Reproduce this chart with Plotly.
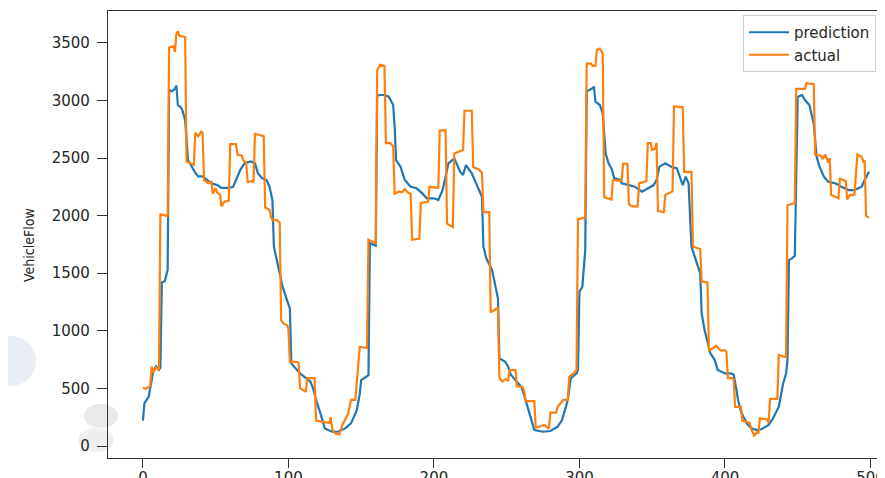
import plotly.graph_objects as go

# ---- data (vertices of each polyline) ----
actual_x = [0, 2, 4, 5, 6, 7, 9, 11, 12, 16, 17, 18, 21, 22, 23, 24, 25, 28, 29,
            30, 34, 35, 36, 38, 40, 41, 42, 45, 47, 48, 50, 51, 53, 54, 56, 59,
            60, 64, 65, 68, 69, 71, 72, 75, 76, 77, 80, 83, 84, 87, 88, 89, 92, 94,
            95, 97, 99, 100, 101, 106, 107, 108, 111, 112, 113, 118, 119, 125, 128,
            129, 130, 132, 135, 137, 139, 141, 143, 146, 149, 154, 155, 160, 161,
            163, 166, 167, 170, 172, 173, 176, 178, 180, 182, 184, 185, 190, 191,
            196, 197, 203, 204, 208, 209, 213, 214, 219, 220, 221, 226, 227, 231,
            233, 234, 238, 239, 244, 245, 247, 249, 251, 252, 256, 257, 261, 262,
            263, 269, 270, 276, 278, 279, 280, 284, 285, 287, 289, 292, 293, 296,
            298, 299, 304, 305, 308, 309, 311, 312, 314, 316, 317, 322, 323, 329,
            330, 333, 334, 336, 340, 341, 346, 347, 349, 350, 352, 353, 354, 358,
            359, 364, 365, 371, 372, 377, 378, 383, 384, 388, 389, 392, 394, 397,
            400, 401, 402, 405, 406, 407, 411, 412, 417, 418, 420, 422, 423, 424,
            429, 430, 431, 436, 437, 442, 443, 448, 449, 455, 456, 461, 462, 466,
            467, 469, 471, 472, 473, 478, 479, 483, 484, 486, 489, 491, 494, 495,
            496, 497, 499]
actual_y = [505, 495, 515, 520, 690, 640, 680, 660, 2010, 2000, 1990, 3460, 3470,
            3420, 3580, 3600, 3560, 3550, 3550, 2470, 2450, 2440, 2720, 2690, 2730,
            2720, 2310, 2280, 2300, 2190, 2240, 2200, 2180, 2080, 2120, 2130, 2620,
            2620, 2530, 2520, 2480, 2460, 2290, 2300, 2290, 2710, 2700, 2690, 2070,
            2050, 1990, 1960, 1960, 1940, 1090, 1060, 1050, 1020, 730, 730, 720, 500,
            480, 470, 590, 590, 220, 210, 200, 250, 150, 110, 100, 180, 230, 280,
            400, 400, 860, 850, 1790, 1760, 3260, 3310, 3300, 2630, 2630, 2600, 2190,
            2210, 2200, 2230, 2200, 2190, 1790, 1800, 2110, 2120, 2250, 2240, 2740,
            2740, 1930, 1900, 2540, 2560, 2570, 2910, 2910, 2420, 2400, 2370, 2030,
            2030, 1160, 1200, 590, 560, 580, 570, 660, 660, 520, 510, 480, 390, 390,
            160, 180, 160, 150, 290, 290, 340, 370, 400, 400, 600, 630, 660, 1970,
            1980, 3320, 3320, 3300, 3300, 3440, 3450, 3410, 2160, 2140, 2310, 2300,
            2450, 2450, 2100, 2080, 2080, 2280, 2300, 2630, 2630, 2570, 2580, 2630,
            2040, 2030, 2180, 2210, 2950, 2940, 2380, 2380, 1730, 1710, 1430, 1420,
            830, 850, 870, 830, 830, 820, 590, 590, 580, 340, 340, 220, 200, 150, 90,
            120, 110, 240, 230, 200, 410, 410, 790, 770, 2090, 2110, 3100, 3100, 3150,
            3140, 2530, 2520, 2490, 2530, 2460, 2500, 2180, 2150, 2320, 2300, 2140,
            2180, 2180, 2530, 2510, 2470, 2480, 2000, 1980]

prediction_x = [0, 1, 4, 5, 7, 9, 11, 12, 13, 15, 16, 17, 18, 20, 22, 23, 24, 26,
                27, 29, 30, 31, 33, 36, 38, 41, 44, 47, 51, 54, 59, 62, 64, 67, 70,
                74, 77, 79, 82, 85, 87, 89, 90, 92, 94, 96, 99, 101, 102, 104, 108,
                111, 115, 117, 119, 122, 125, 130, 134, 139, 143, 147, 149, 150, 155,
                156, 160, 161, 163, 166, 169, 172, 173, 174, 177, 180, 184, 188, 192,
                195, 200, 203, 206, 210, 214, 218, 220, 222, 226, 229, 233, 234, 236,
                240, 242, 244, 245, 249, 251, 253, 257, 260, 262, 265, 267, 269, 275,
                280, 285, 288, 290, 292, 294, 298, 299, 300, 302, 304, 305, 309, 310,
                311, 314, 316, 318, 320, 322, 324, 328, 329, 334, 338, 343, 347, 351,
                353, 355, 359, 363, 367, 369, 371, 373, 375, 377, 380, 383, 384, 386,
                390, 393, 395, 400, 404, 406, 408, 409, 411, 415, 418, 422, 425, 430,
                433, 437, 440, 442, 443, 444, 446, 448, 450, 453, 455, 458, 461, 463,
                465, 468, 471, 476, 480, 485, 489, 494, 496, 499]
prediction_y = [220, 370, 430, 515, 645, 690, 660, 680, 1420, 1430, 1470, 1530, 3090,
                3080, 3100, 3130, 2960, 2940, 2920, 2830, 2660, 2480, 2440, 2370, 2340,
                2340, 2310, 2280, 2265, 2240, 2240, 2250, 2310, 2400, 2455, 2470, 2455,
                2367, 2323, 2309, 2251, 2135, 1730, 1614, 1527, 1383, 1267, 1195, 717,
                690, 630, 600, 560, 500, 400, 283, 153, 124, 124, 153, 196, 312, 450,
                572, 616, 1760, 1740, 3040, 3047, 3047, 3032, 2960, 2772, 2482, 2425,
                2309, 2251, 2237, 2193, 2150, 2150, 2135, 2222, 2454, 2497, 2381, 2352,
                2439, 2367, 2280, 2164, 1730, 1629, 1527, 1400, 1280, 760, 731, 688,
                616, 558, 515, 442, 312, 211, 138, 124, 130, 167, 225, 312, 399, 587,
                630, 660, 1339, 1383, 1700, 3080, 3105, 3119, 2989, 2960, 2888, 2540,
                2454, 2410, 2323, 2309, 2280, 2265, 2251, 2208, 2237, 2265, 2309, 2425,
                2454, 2425, 2410, 2338, 2265, 2338, 2280, 1730, 1614, 1499, 1151, 1007,
                804, 746, 660, 630, 630, 620, 480, 400, 298, 196, 153, 138, 145, 182,
                240, 341, 543, 630, 746, 1614, 1629, 1650, 3030, 3047, 3003, 2960, 2801,
                2511, 2425, 2338, 2294, 2280, 2251, 2222, 2222, 2251, 2309, 2381]

x_ticks = [0, 100, 200, 300, 400, 500]
y_ticks = [0, 500, 1000, 1500, 2000, 2500, 3000, 3500]
series_names = ["prediction", "actual"]
y_label = "VehicleFlow"

# the page body adds an 8px offset; the figure fills the rest of the window
OFF = 8
W, H = 885 - OFF, 478 - OFF
L, T = 108 - OFF, 11 - OFF
B = H - (458 - OFF)


def px2paper(px, py):
    # px, py are window pixel coordinates of the reference
    fx, fy = px - OFF, py - OFF
    return (fx - L) / (W - L), (H - B - fy) / (H - B - T)


fig = go.Figure()
fig.add_trace(go.Scatter(x=prediction_x, y=prediction_y, mode="lines",
                         name=series_names[0],
                         line=dict(color="#1f77b4", width=2.2)))
fig.add_trace(go.Scatter(x=actual_x, y=actual_y, mode="lines",
                         name=series_names[1],
                         line=dict(color="#ff7f0e", width=2.2)))

# faint background blobs seen in the left margin of the reference
shapes = []
for (x0, y0, x1, y1, col) in [(-14, 336, 36, 386, "#e8eef4"),
                              (84, 404, 118, 428, "#e9e9e9"),
                              (78, 428, 114, 452, "#efefef")]:
    a0, b1 = px2paper(x0, y0)
    a1, b0 = px2paper(x1, y1)
    shapes.append(dict(type="circle", xref="paper", yref="paper",
                       x0=a0, x1=a1, y0=b0, y1=b1,
                       fillcolor=col, line=dict(width=0), layer="below"))

lx, ly = px2paper(743, 15)
ax_, ay_ = px2paper(29, 245)

tick_font = dict(family="DejaVu Sans, sans-serif", size=15, color="#262626")

fig.update_layout(
    width=W, height=H,
    margin=dict(l=L, r=0, t=T, b=B, autoexpand=False),
    paper_bgcolor="white", plot_bgcolor="white",
    showlegend=True,
    legend=dict(x=lx, y=ly, xanchor="left", yanchor="top",
                bgcolor="rgba(255,255,255,0.9)", bordercolor="#cccccc",
                borderwidth=1, itemwidth=40,
                font=dict(family="DejaVu Sans, sans-serif", size=15,
                          color="#262626"),
                tracegroupgap=0),
    shapes=shapes,
    annotations=[dict(text=y_label, x=ax_, y=ay_, xref="paper", yref="paper",
                      showarrow=False, textangle=-90,
                      xanchor="center", yanchor="middle",
                      font=dict(family="Liberation Sans Narrow, DejaVu Sans Condensed, sans-serif",
                                size=14, color="#262626"))],
    xaxis=dict(range=[-24, 510], tickvals=x_ticks,
               ticktext=[str(v) for v in x_ticks],
               showgrid=False, zeroline=False,
               showline=True, mirror=True, linecolor="#333333", linewidth=1.2,
               ticks="outside", ticklen=9, tickwidth=1.2, tickcolor="#333333",
               ticklabelstandoff=-3,
               tickfont=tick_font),
    yaxis=dict(range=[-104, 3776], tickvals=y_ticks,
               ticktext=[str(v) for v in y_ticks],
               showgrid=False, zeroline=False,
               showline=True, mirror=False, linecolor="#333333", linewidth=1.2,
               ticks="outside", ticklen=10, tickwidth=1.2, tickcolor="#333333",
               ticklabelstandoff=4,
               tickfont=tick_font),
)

fig.write_html("out.html")
